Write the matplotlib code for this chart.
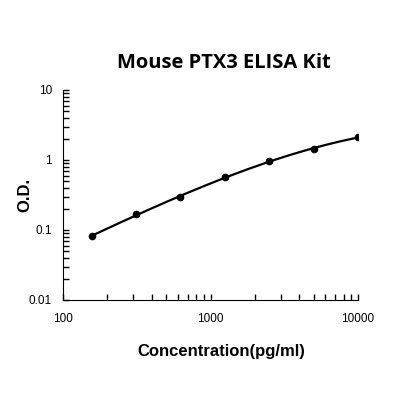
import numpy as np
import matplotlib
matplotlib.use("Agg")
import matplotlib.pyplot as plt
from matplotlib.ticker import LogLocator, FixedLocator, FixedFormatter, NullFormatter

plt.rcParams["font.family"] = ["Liberation Sans", "DejaVu Sans"]

# Standard curve values
conc = np.array([156.25, 312.5, 625, 1250, 2500, 5000, 10000])
od = np.array([0.082, 0.167, 0.293, 0.566, 0.97, 1.44, 2.11])

x_ticks = [100, 1000, 10000]
x_labels = ["100", "1000", "10000"]
y_ticks = [0.01, 0.1, 1, 10]
y_labels = ["0.01", "0.1", "1", "10"]

# smooth fit curve in log-log space
coef = np.polyfit(np.log10(conc), np.log10(od), 3)
xs = np.logspace(np.log10(conc.min()), np.log10(conc.max()), 200)
ys = 10 ** np.polyval(coef, np.log10(xs))

fig = plt.figure(figsize=(4, 4), dpi=100)
ax = fig.add_axes([0.1575, 0.25, 0.7375, 0.525])

ax.plot(xs, ys, color="black", linewidth=1.6)
ax.plot(conc, od, "o", color="black", markersize=4.5)

ax.set_xscale("log")
ax.set_yscale("log")
ax.set_xlim(100, 10000)
ax.set_ylim(0.01, 10)

ax.spines["top"].set_visible(False)
ax.spines["right"].set_visible(False)

ax.xaxis.set_major_locator(FixedLocator(x_ticks))
ax.xaxis.set_major_formatter(FixedFormatter(x_labels))
ax.yaxis.set_major_locator(FixedLocator(y_ticks))
ax.yaxis.set_major_formatter(FixedFormatter(y_labels))
ax.xaxis.set_minor_locator(LogLocator(base=10, subs=np.arange(2, 10)))
ax.yaxis.set_minor_locator(LogLocator(base=10, subs=np.arange(2, 10)))
ax.xaxis.set_minor_formatter(NullFormatter())
ax.yaxis.set_minor_formatter(NullFormatter())

ax.tick_params(which="both", direction="in", length=4, width=1, labelsize=8.5)
ax.tick_params(axis="x", which="major", pad=9)
ax.tick_params(axis="y", which="major", pad=8)

ax.set_title("Mouse PTX3 ELISA Kit", fontsize=14.5, fontweight="bold",
             fontfamily="Open Sans", x=0.544, pad=16)
ax.set_xlabel("Concentration(pg/ml)", fontsize=12, fontweight="bold")
ax.xaxis.set_label_coords(0.536, -0.21)
ax.set_ylabel("O.D.", fontsize=12, fontweight="bold")
ax.yaxis.set_label_coords(-0.105, 0.5)

fig.savefig("out.png", dpi=100)
